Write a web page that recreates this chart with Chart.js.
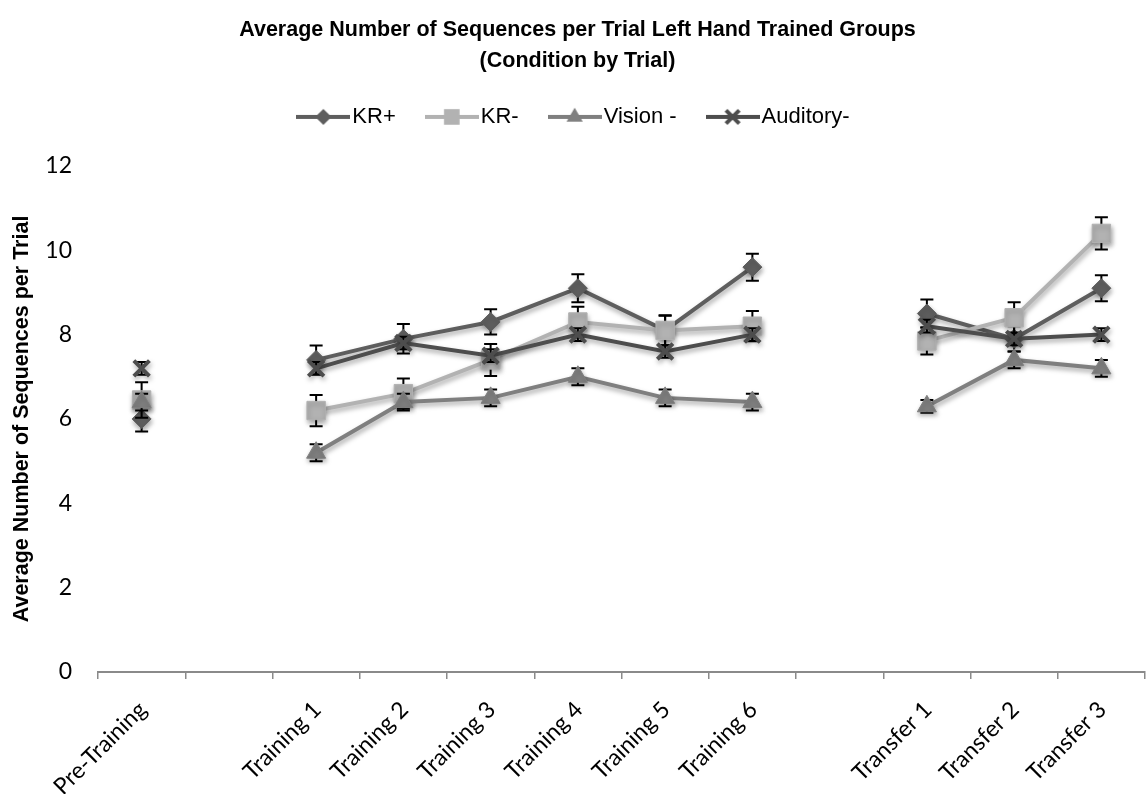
<!DOCTYPE html>
<html>
<head>
<meta charset="utf-8">
<title>Average Number of Sequences per Trial</title>
<script src="https://cdn.jsdelivr.net/npm/chart.js@4.4.1/dist/chart.umd.min.js"></script>
<style>
    html, body { margin: 0; padding: 0; background: #fff; overflow: hidden; }
    #wrap { width: 1160px; height: 794px; position: relative; }
</style>
</head>
<body>
<div id="wrap"><canvas id="trialChart"></canvas></div>
<script>
// Trial conditions (blank slots separate the phases)
const trialLabels = ['Pre-Training', '', 'Training 1', 'Training 2', 'Training 3', 'Training 4',
    'Training 5', 'Training 6', '', 'Transfer 1', 'Transfer 2', 'Transfer 3'];

// Group means
const krPlus        = [6.0,  null, 7.4, 7.9, 8.3, 9.1, 8.1, 9.6, null, 8.5,  7.9, 9.1];
const krMinus       = [6.45, null, 6.2, 6.6, 7.4, 8.3, 8.1, 8.2, null, 7.85, 8.4, 10.4];
const visionMinus   = [6.4,  null, 5.2, 6.4, 6.5, 7.0, 6.5, 6.4, null, 6.3,  7.4, 7.2];
const auditoryMinus = [7.2,  null, 7.2, 7.8, 7.5, 8.0, 7.6, 8.0, null, 8.2,  7.9, 8.0];

// Standard errors
const errKrPlus        = [0.30, null, 0.34, 0.35, 0.30, 0.33, 0.35, 0.32, null, 0.33, 0.30, 0.31];
const errKrMinus       = [0.42, null, 0.37, 0.36, 0.38, 0.36, 0.36, 0.36, null, 0.32, 0.37, 0.38];
const errVisionMinus   = [0.20, null, 0.20, 0.20, 0.20, 0.20, 0.20, 0.20, null, 0.15, 0.20, 0.20];
const errAuditoryMinus = [0.15, null, 0.15, 0.15, 0.15, 0.15, 0.15, 0.15, null, 0.15, 0.15, 0.15];

const yTicks = { min: 0, max: 12, step: 2 };

const SANS = "'Liberation Sans', Arial, sans-serif";
const TICKFONT = "Lato, 'Open Sans', sans-serif";

document.addEventListener('DOMContentLoaded', () => {

    // draw a marker by hand (used for the legend icons)
    const drawMarker = (ctx, style, x, y, r, color) => {
        ctx.fillStyle = color;
        ctx.strokeStyle = color;
        ctx.beginPath();
        if (style === 'rectRot') {
            ctx.moveTo(x - r, y); ctx.lineTo(x, y - r); ctx.lineTo(x + r, y); ctx.lineTo(x, y + r);
            ctx.closePath(); ctx.fill();
        } else if (style === 'rect') {
            const s = r * Math.SQRT1_2;
            ctx.rect(x - s, y - s, 2 * s, 2 * s); ctx.fill();
        } else if (style === 'triangle') {
            ctx.moveTo(x, y - r);
            ctx.lineTo(x + r * 0.866, y + r * 0.5);
            ctx.lineTo(x - r * 0.866, y + r * 0.5);
            ctx.closePath(); ctx.fill();
        } else if (style === 'crossRot') {
            const s = r * Math.SQRT1_2;
            ctx.lineWidth = 4;
            ctx.moveTo(x - s, y - s); ctx.lineTo(x + s, y + s);
            ctx.moveTo(x + s, y - s); ctx.lineTo(x - s, y + s);
            ctx.stroke();
        }
    };

    const makeIcon = (style, color, r) => {
        const c = document.createElement('canvas');
        c.width = 54; c.height = 26;
        const ctx = c.getContext('2d');
        ctx.strokeStyle = color;
        ctx.lineWidth = 4;
        ctx.beginPath(); ctx.moveTo(0, 13); ctx.lineTo(54, 13); ctx.stroke();
        drawMarker(ctx, style, 27, 13, r, color);
        return c;
    };

    const series = [
        { label: 'KR+',       data: krPlus,        err: errKrPlus,        color: '#5e5e5e', style: 'rectRot',  radius: 9.5, bw: 1 },
        { label: 'KR-',       data: krMinus,       err: errKrMinus,       color: '#b2b2b2', style: 'rect',     radius: 13,  bw: 1 },
        { label: 'Vision -',  data: visionMinus,   err: errVisionMinus,   color: '#7f7f7f', style: 'triangle', radius: 11,  bw: 1 },
        { label: 'Auditory-', data: auditoryMinus, err: errAuditoryMinus, color: '#4d4d4d', style: 'crossRot', radius: 11,  bw: 4 }
    ];

    const icons = series.map(s => makeIcon(s.style, s.color, s.radius * 0.85));

    // error bars, drawn under each series so its own markers cover the stems
    const errorBars = {
        id: 'errorBars',
        beforeDatasetDraw(chart, args) {
            const s = series[args.index];
            const meta = args.meta;
            const yScale = chart.scales.y;
            const ctx = chart.ctx;
            ctx.save();
            ctx.strokeStyle = '#000';
            ctx.lineWidth = 2;
            meta.data.forEach((pt, j) => {
                const v = s.data[j], e = s.err[j];
                if (v === null || e === null) return;
                const yt = yScale.getPixelForValue(v + e);
                const yb = yScale.getPixelForValue(v - e);
                ctx.beginPath();
                ctx.moveTo(pt.x, yt); ctx.lineTo(pt.x, yb);
                ctx.moveTo(pt.x - 6.5, yt); ctx.lineTo(pt.x + 6.5, yt);
                ctx.moveTo(pt.x - 6.5, yb); ctx.lineTo(pt.x + 6.5, yb);
                ctx.stroke();
            });
            ctx.restore();
        }
    };

    // soft drop shadow like the office chart
    const shadow = {
        id: 'shadow',
        beforeDatasetDraw(chart) {
            const ctx = chart.ctx;
            ctx.save();
            ctx.shadowColor = 'rgba(0,0,0,0.35)';
            ctx.shadowBlur = 5;
            ctx.shadowOffsetX = 1;
            ctx.shadowOffsetY = 3;
        },
        afterDatasetDraw(chart) {
            chart.ctx.restore();
        }
    };

    const ctx = document.getElementById('trialChart').getContext('2d');

    new Chart(ctx, {
        type: 'line',
        data: {
            labels: trialLabels,
            datasets: series.map((s, i) => ({
                label: s.label,
                data: s.data,
                borderColor: s.color,
                backgroundColor: s.color,
                borderWidth: 4,
                pointStyle: s.style,
                pointRadius: s.radius,
                pointBackgroundColor: s.color,
                pointBorderColor: s.color,
                pointBorderWidth: s.bw,
                spanGaps: false,
                tension: 0,
                order: series.length - i
            }))
        },
        options: {
            responsive: true,
            maintainAspectRatio: false,
            animation: false,
            layout: { padding: { top: 0, left: 0, right: 5, bottom: 0 } },
            plugins: {
                title: {
                    display: true,
                    text: ['Average Number of Sequences per Trial Left Hand Trained Groups', '(Condition by Trial)'],
                    color: '#000',
                    font: { family: SANS, size: 21.5, weight: 'bold', lineHeight: 1.44 },
                    padding: { top: 14.5, bottom: -8.5 }
                },
                legend: {
                    display: true,
                    position: 'top',
                    labels: {
                        color: '#000',
                        font: { family: SANS, size: 22 },
                        usePointStyle: true,
                        pointStyleWidth: 36,
                        padding: 38,
                        sort: (a, b) => a.datasetIndex - b.datasetIndex,
                        generateLabels(chart) {
                            const items = Chart.defaults.plugins.legend.labels.generateLabels(chart);
                            items.forEach(it => { it.pointStyle = icons[it.datasetIndex]; });
                            return items;
                        }
                    }
                },
                tooltip: { enabled: false }
            },
            scales: {
                x: {
                    type: 'category',
                    position: 'bottom',
                    offset: true,
                    afterFit(scale) { scale.height = 122; },
                    grid: {
                        display: true,
                        offset: true,
                        drawOnChartArea: false,
                        drawTicks: true,
                        tickLength: 7,
                        color: '#8a8a8a',
                        lineWidth: 1.5
                    },
                    border: { display: true, color: '#8a8a8a', width: 2 },
                    ticks: {
                        autoSkip: false,
                        minRotation: 45,
                        maxRotation: 45,
                        padding: 17,
                        labelOffset: 1,
                        color: '#000',
                        font: { family: TICKFONT, size: 23 }
                    }
                },
                // empty band between legend and plot area
                xTop: {
                    type: 'category',
                    position: 'top',
                    afterFit(scale) { scale.height = 28; },
                    grid: { display: false },
                    border: { display: false },
                    ticks: { display: false }
                },
                y: {
                    min: yTicks.min,
                    max: yTicks.max,
                    afterFit(scale) { scale.width = 98; },
                    grid: { display: false, drawTicks: false },
                    border: { display: false },
                    ticks: {
                        stepSize: yTicks.step,
                        padding: 26,
                        color: '#000',
                        font: { family: TICKFONT, size: 23 }
                    },
                    title: {
                        display: true,
                        text: 'Average Number of Sequences per Trial',
                        color: '#000',
                        font: { family: SANS, size: 21.5, weight: 'bold', lineHeight: 1.2 },
                        padding: { top: 9, bottom: 0 }
                    }
                }
            }
        },
        plugins: [errorBars, shadow]
    });
});
</script>
</body>
</html>
